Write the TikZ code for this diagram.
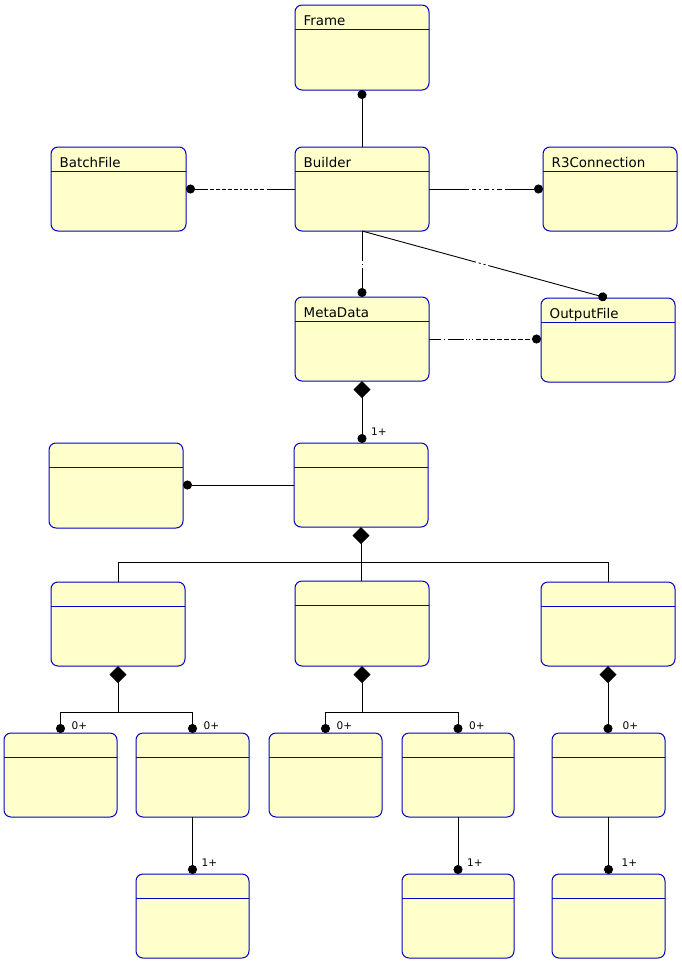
\documentclass[tikz,border=0pt]{standalone}
\usepackage{fontspec}
\setmainfont{DejaVu Sans}
\usetikzlibrary{arrows.meta}
\definecolor{boxfill}{RGB}{255,255,204}
\definecolor{boxline}{RGB}{0,0,200}
\tikzset{
  umlbox/.style={draw=boxline, fill=boxfill, line width=1pt, rounded corners=7pt, inner sep=0pt, outer sep=0pt},
  hdrline/.style={draw=boxline, line width=1pt},
  boxtitle/.style={anchor=base west, inner sep=0pt, font=\fontsize{13.4}{15}\selectfont},
  mult/.style={anchor=base west, inner sep=0pt, font=\fontsize{10.5}{12}\selectfont},
  conn/.style={line width=0.9pt, draw=black},
  dotend/.style={-{Circle[length=9pt,width=9pt]}},
  diastart/.style={{Diamond[length=17pt,width=17pt]}-},
  diadot/.style={{Diamond[length=17pt,width=17pt]}-{Circle[length=9pt,width=9pt]}},
}
\newcommand\ubox[5]{%
  \pgfmathsetmacro\ubw{#4-#2}%
  \pgfmathsetmacro\ubh{#5-#3}%
  \node[umlbox, minimum width=\ubw pt, minimum height=\ubh pt] (#1) at ({(#2+#4)/2},{(#3+#5)/2}) {};
  \draw[hdrline] ([yshift=-24pt]#1.north west) -- ([yshift=-24pt]#1.north east);
}
\newcommand\utitle[2]{%
  \node[boxtitle] (#1t) at ([xshift=8.5pt,yshift=-20pt]#1.north west) {#2};
}
\begin{document}
\begin{tikzpicture}[x=1pt,y=-1pt]
\useasboundingbox (0,0) rectangle (681,964);
% boxes
\ubox{frame}{295}{5}{429}{90}
\utitle{frame}{Frame}
\ubox{builder}{295}{147}{429}{231}
\utitle{builder}{Builder}
\ubox{batch}{51}{147}{186}{231}
\utitle{batch}{BatchFile}
\ubox{r3}{543}{147}{677}{231}
\utitle{r3}{R3Connection}
\ubox{meta}{295}{297}{429}{381}
\utitle{meta}{MetaData}
\ubox{outf}{541}{298}{675}{382}
\utitle{outf}{OutputFile}
\ubox{mid}{294}{443}{428}{527}
\ubox{left}{49}{443}{183}{528}
\ubox{r3l}{51}{582}{185}{666}
\ubox{r3m}{295}{581}{429}{666}
\ubox{r3r}{541}{582}{675}{666}
\ubox{r4a}{4}{733}{117}{817}
\ubox{r4b}{136}{733}{249}{817}
\ubox{r4c}{269}{733}{382}{817}
\ubox{r4d}{402}{733}{514}{817}
\ubox{r4e}{552}{733}{665}{817}
\ubox{r5a}{136}{874}{249}{958}
\ubox{r5b}{402}{874}{514}{958}
\ubox{r5c}{552}{874}{665}{958}
% connectors
\draw[conn,dotend] (builder.north) -- (frame.south);
\draw[conn,dotend,dash pattern=on 28pt off 3pt on 4pt off 2pt on 4pt off 2pt on 2pt off 2pt on 4pt off 2pt on 2pt off 2pt on 4pt off 2pt on 4pt off 2pt on 4pt off 2pt on 4pt off 2pt on 4pt off 2pt on 60pt off 1pt]
  (builder.west) -- (batch.east);
\draw[conn,dotend,dash pattern=on 40pt off 3pt on 4pt off 3pt on 2pt off 3pt on 5pt off 3pt on 2pt off 3pt on 5pt off 3pt on 60pt off 1pt]
  (builder.east) -- (r3.west);
\draw[conn,dotend,dash pattern=on 30pt off 3pt on 1pt off 3pt on 200pt off 1pt]
  (builder.south) -- (meta.north);
\draw[conn,dotend,dash pattern=on 118pt off 3pt on 2pt off 3pt on 2pt off 3pt on 300pt off 1pt]
  (builder.south) -- ([xshift=-1pt]outf.north);
\draw[conn,dotend,dash pattern=on 12pt off 3pt on 1pt off 3pt on 16pt off 2pt on 1pt off 2pt on 1pt off 2pt on 1pt off 3pt on 5pt off 2pt on 5pt off 2pt on 5pt off 2pt on 5pt off 2pt on 5pt off 2pt on 5pt off 2pt on 5pt off 2pt on 5pt off 2pt on 5pt off 2pt on 5pt off 2pt on 40pt off 1pt]
  (meta.east) -- (meta.east -| outf.west);
\draw[conn,diadot] (meta.south) -- (meta.south |- mid.north);
\node[mult] (m1) at ([xshift=10pt,yshift=8pt]mid.north) {1+};
\draw[conn,dotend] (mid.west) -- (mid.west -| left.east);
% tree
\draw[conn,diastart] (mid.south) -- (mid.south |- r3m.north);
\draw[conn] (r3l.north) -- ++(0,-20) -| (r3r.north);
% row 3 left
\draw[conn,diastart] (r3l.south) -- ++(0,46) coordinate (j1);
\draw[conn,dotend] (j1) -| (r4a.north);
\draw[conn,dotend] (j1) -| (r4b.north);
\node[mult] (m2) at ([xshift=11pt,yshift=4pt]r4a.north) {0+};
\node[mult] (m3) at ([xshift=11pt,yshift=4pt]r4b.north) {0+};
% row 3 middle
\draw[conn,diastart] (r3m.south) -- ++(0,46) coordinate (j2);
\draw[conn,dotend] (j2) -| (r4c.north);
\draw[conn,dotend] (j2) -| (r4d.north);
\node[mult] (m4) at ([xshift=11pt,yshift=4pt]r4c.north) {0+};
\node[mult] (m5) at ([xshift=11pt,yshift=4pt]r4d.north) {0+};
% row 3 right
\draw[conn,diadot] (r3r.south) -- (r3r.south |- r4e.north);
\node[mult] (m6) at ([xshift=14pt,yshift=4pt]r4e.north) {0+};
% row 4 to row 5
\draw[conn,dotend] (r4b.south) -- (r5a.north);
\draw[conn,dotend] (r4d.south) -- (r5b.north);
\draw[conn,dotend] (r4e.south) -- (r5c.north);
\node[mult] (m7) at ([xshift=9pt,yshift=8pt]r5a.north) {1+};
\node[mult] (m8) at ([xshift=9pt,yshift=8pt]r5b.north) {1+};
\node[mult] (m9) at ([xshift=13pt,yshift=8pt]r5c.north) {1+};
\end{tikzpicture}
\end{document}
